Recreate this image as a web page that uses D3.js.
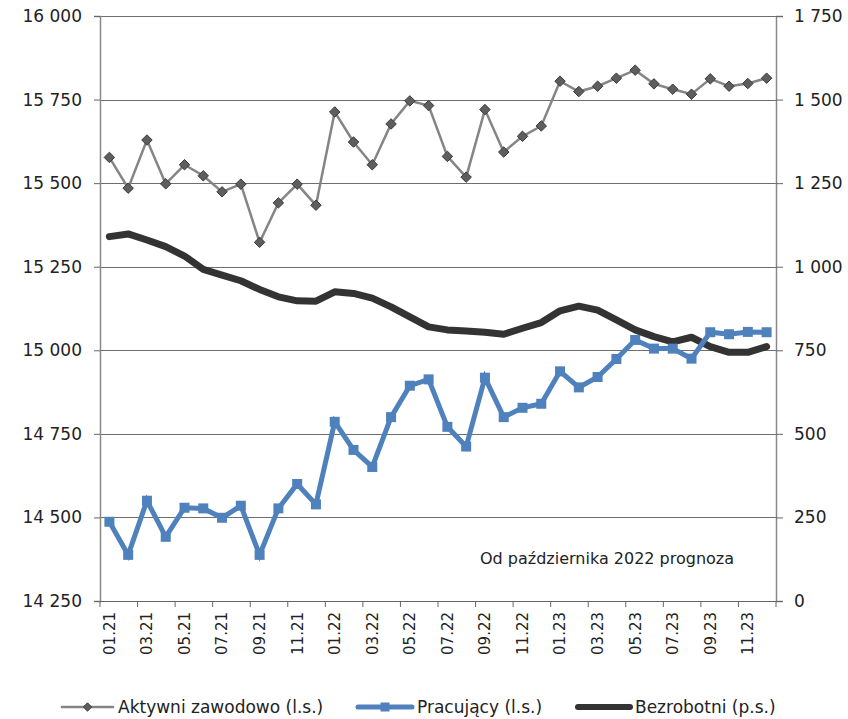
<!DOCTYPE html>
<html>
<head>
<meta charset="utf-8">
<script src="https://cdn.jsdelivr.net/npm/d3@7"></script>
<style>
  body { margin: 0; background: #fff; }
  text { font-family: "DejaVu Sans", Verdana, sans-serif; fill: #222; }
</style>
</head>
<body>
<div id="chart"></div>
<script>
// months on the x axis
var months = ["01.21","02.21","03.21","04.21","05.21","06.21","07.21","08.21","09.21","10.21","11.21","12.21",
  "01.22","02.22","03.22","04.22","05.22","06.22","07.22","08.22","09.22","10.22","11.22","12.22",
  "01.23","02.23","03.23","04.23","05.23","06.23","07.23","08.23","09.23","10.23","11.23","12.23"];

// thousands, left scale
var aktywni = [15577,15485,15629,15498,15555,15522,15474,15497,15323,15441,15497,15434,
  15713,15623,15555,15677,15746,15732,15580,15518,15720,15593,15640,15671,
  15805,15774,15790,15814,15838,15797,15781,15766,15812,15790,15798,15814];

var pracujacy = [14487,14388,14550,14442,14529,14527,14499,14535,14388,14527,14600,14539,
  14786,14702,14651,14800,14894,14913,14771,14712,14918,14800,14828,14840,
  14937,14889,14920,14974,15031,15005,15005,14975,15054,15048,15055,15054];

// thousands, right scale
var bezrobotni = [1090,1098,1080,1060,1032,992,975,958,932,910,898,897,
  925,920,906,880,850,820,811,808,804,798,816,833,
  868,882,870,841,811,791,775,789,761,744,744,761];

var leftTicks = [14250,14500,14750,15000,15250,15500,15750,16000];
var rightTicks = [0,250,500,750,1000,1250,1500,1750];
var seriesNames = ["Aktywni zawodowo (l.s.)", "Pracujący (l.s.)", "Bezrobotni (p.s.)"];
var note = "Od października 2022 prognoza";

var width = 848, height = 719;
var margin = {top: 16, right: 72, bottom: 118, left: 100};

var svg = d3.select("#chart").append("svg")
  .attr("width", width)
  .attr("height", height);

var x = d3.scaleBand()
  .domain(months)
  .range([margin.left, width - margin.right]);
var cx = function(m) { return x(m) + x.bandwidth() / 2; };

var yL = d3.scaleLinear().domain([14250, 16000]).range([height - margin.bottom, margin.top]);
var yR = d3.scaleLinear().domain([0, 1750]).range([height - margin.bottom, margin.top]);

var fmt = d3.formatLocale({decimal: ",", thousands: " ", grouping: [3], currency: ["", ""]}).format(",d");

// gridlines
svg.append("g")
  .selectAll("line")
  .data(leftTicks)
  .enter().append("line")
  .attr("x1", margin.left)
  .attr("x2", width - margin.right)
  .attr("y1", d => Math.round(yL(d)) + 0.5)
  .attr("y2", d => Math.round(yL(d)) + 0.5)
  .attr("stroke", "#6e6e6e")
  .attr("stroke-width", 1);

// left axis
var gL = svg.append("g")
  .attr("transform", "translate(" + margin.left + ",0)")
  .call(d3.axisLeft(yL).tickValues(leftTicks).tickFormat(fmt).tickSize(6).tickPadding(12));
// right axis
var gR = svg.append("g")
  .attr("transform", "translate(" + (width - margin.right) + ",0)")
  .call(d3.axisRight(yR).tickValues(rightTicks).tickFormat(fmt).tickSize(7).tickPadding(11));

[gL, gR].forEach(function(g) {
  g.select(".domain").attr("stroke", "#888").attr("stroke-width", 1.5);
  g.selectAll(".tick line").attr("stroke", "#666");
  g.selectAll(".tick text").style("font-size", "17px").attr("fill", "#222")
    .style("font-family", "'DejaVu Sans', Verdana, sans-serif");
});

// bottom axis: labels every second month, ticks on the band edges
var evenMonths = months.filter((m, i) => i % 2 === 0);
var gB = svg.append("g")
  .attr("transform", "translate(0," + (height - margin.bottom) + ")")
  .call(d3.axisBottom(x).tickValues(evenMonths).tickSize(0).tickPadding(0));
gB.select(".domain").attr("stroke", "#666").attr("stroke-width", 1.2);
gB.selectAll(".tick text")
  .style("font-size", "15px")
  .style("font-family", "'DejaVu Sans', Verdana, sans-serif")
  .attr("fill", "#222")
  .attr("text-anchor", "end")
  .attr("transform", "rotate(-90)")
  .attr("x", -11)
  .attr("y", 0)
  .attr("dy", "0.36em");
gB.selectAll("line.edge")
  .data(evenMonths.map(m => x(m)).concat([x.range()[1]]))
  .enter().append("line")
  .attr("class", "edge")
  .attr("x1", d => d).attr("x2", d => d)
  .attr("y1", 0).attr("y2", 6)
  .attr("stroke", "#666");

// lines
var lineL = function(vals) {
  return d3.line().x((d, i) => cx(months[i])).y(d => yL(d))(vals);
};

svg.append("path")
  .attr("d", d3.line().x((d, i) => cx(months[i])).y(d => yR(d))(bezrobotni))
  .attr("fill", "none")
  .attr("stroke", "#333")
  .attr("stroke-width", 7)
  .attr("stroke-linejoin", "round")
  .attr("stroke-linecap", "round");

svg.append("path")
  .attr("d", lineL(aktywni))
  .attr("fill", "none")
  .attr("stroke", "#858585")
  .attr("stroke-width", 2.5);

svg.append("g").selectAll("path")
  .data(aktywni)
  .enter().append("path")
  .attr("d", d3.symbol().type(d3.symbolDiamond2).size(70))
  .attr("transform", (d, i) => "translate(" + cx(months[i]) + "," + yL(d) + ")")
  .attr("fill", "#5e5e5e")
  .attr("stroke", "#3a3a3a")
  .attr("stroke-width", 1);

svg.append("path")
  .attr("d", lineL(pracujacy))
  .attr("fill", "none")
  .attr("stroke", "#4f81bd")
  .attr("stroke-width", 5);

svg.append("g").selectAll("rect")
  .data(pracujacy)
  .enter().append("rect")
  .attr("x", (d, i) => cx(months[i]) - 5)
  .attr("y", d => yL(d) - 5)
  .attr("width", 10)
  .attr("height", 10)
  .attr("fill", "#4f81bd");

// note
svg.append("text")
  .attr("x", 480)
  .attr("y", 564)
  .style("font-size", "16px")
  .text(note);

// legend
var legendY = 707;
var legendItems = [
  {name: seriesNames[0], x0: 62, x1: 113, color: "#858585", w: 2.5, marker: "diamond"},
  {name: seriesNames[1], x0: 358, x1: 412, color: "#4f81bd", w: 5, marker: "square"},
  {name: seriesNames[2], x0: 578, x1: 630, color: "#333", w: 6, marker: "none"}
];
var lg = svg.append("g").selectAll("g")
  .data(legendItems)
  .enter().append("g");
lg.append("line")
  .attr("x1", d => d.x0).attr("x2", d => d.x1)
  .attr("y1", legendY).attr("y2", legendY)
  .attr("stroke", d => d.color)
  .attr("stroke-width", d => d.w)
  .attr("stroke-linecap", "round");
lg.filter(d => d.marker === "diamond").append("path")
  .attr("d", d3.symbol().type(d3.symbolDiamond2).size(45))
  .attr("transform", d => "translate(" + (d.x0 + d.x1) / 2 + "," + legendY + ")")
  .attr("fill", "#5e5e5e").attr("stroke", "#3a3a3a");
lg.filter(d => d.marker === "square").append("rect")
  .attr("x", d => (d.x0 + d.x1) / 2 - 4.5).attr("y", legendY - 4.5)
  .attr("width", 9).attr("height", 9)
  .attr("fill", "#4f81bd");
lg.append("text")
  .attr("x", d => d.x1 + 5)
  .attr("y", legendY)
  .attr("dy", "0.36em")
  .style("font-size", "17px")
  .text(d => d.name);
</script>
</body>
</html>
